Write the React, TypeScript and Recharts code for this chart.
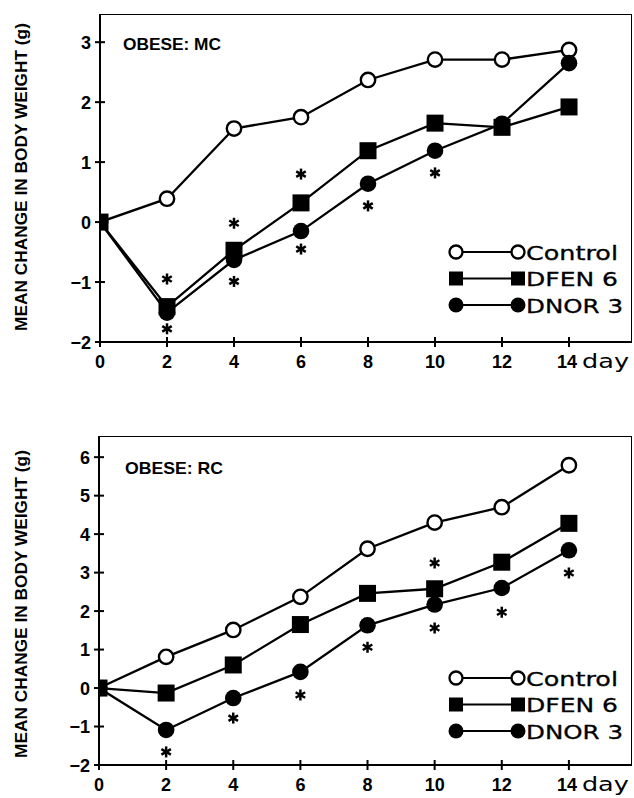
import React from 'react';
import {
  ComposedChart,
  Line,
  Scatter,
  XAxis,
  YAxis,
  Legend,
  Customized,
} from 'recharts';

// ---------- data ----------
const days = [0, 2, 4, 6, 8, 10, 12, 14];

// OBESE: MC
const mcControl = [0, 0.39, 1.56, 1.75, 2.37, 2.71, 2.71, 2.87];
const mcDfen6 = [0, -1.41, -0.47, 0.32, 1.19, 1.65, 1.58, 1.92];
const mcDnor3 = [0, -1.51, -0.63, -0.15, 0.64, 1.19, 1.64, 2.65];
const mcStarDays = [2, 2, 4, 4, 6, 6, 8, 10];
const mcStarValues = [-0.95, -1.78, -0.02, -0.99, 0.8, -0.45, 0.27, 0.82];

// OBESE: RC
const rcControl = [0, 0.81, 1.51, 2.37, 3.62, 4.3, 4.7, 5.79];
const rcDfen6 = [0, -0.13, 0.6, 1.65, 2.46, 2.58, 3.27, 4.28];
const rcDnor3 = [0, -1.09, -0.26, 0.42, 1.63, 2.17, 2.6, 3.58];
const rcStarDays = [2, 4, 6, 8, 10, 10, 12, 14];
const rcStarValues = [-1.66, -0.78, -0.18, 1.06, 3.25, 1.56, 1.97, 2.99];

const xTicks = [0, 2, 4, 6, 8, 10, 12, 14];
const mcYTicks = [-2, -1, 0, 1, 2, 3];
const rcYTicks = [-2, -1, 0, 1, 2, 3, 4, 5, 6];

const seriesNames = ['Control', 'DFEN 6', 'DNOR 3'];
const yAxisTitle = 'MEAN CHANGE IN BODY WEIGHT (g)';

// ---------- helpers ----------
const BOLD = 'Liberation Sans, Arial, Helvetica, sans-serif';
const WIDE = 'DejaVu Sans, Verdana, sans-serif';
const X_MAX = 15.88;
const Y_MIN = -2;

const buildRows = (c: number[], f: number[], n: number[]) =>
  days.map((d, i) => ({ day: d, control: c[i], dfen: f[i], dnor: n[i] }));
const buildStars = (ds: number[], vs: number[]) =>
  ds.map((d, i) => ({ day: d, v: vs[i] }));
// outline of the plot box (top and right edges), drawn through the scales
const buildFrame = (yMax: number) => [
  { day: 0, v: yMax },
  { day: X_MAX, v: yMax },
  { day: X_MAX, v: Y_MIN },
];

const fmt = (v: number) => (v < 0 ? `\u2212${-v}` : `${v}`);

const XTick = (props: any) => {
  const { x, y, payload } = props;
  const v = payload.value;
  return (
    <g>
      <line x1={x} x2={x} y1={y - 5} y2={y + 5} stroke="#000" strokeWidth={2} />
      <text
        x={v === 14 ? x - 2 : x}
        y={y + 26}
        textAnchor="middle"
        fontFamily={BOLD}
        fontWeight="bold"
        fontSize={18}
        fill="#000"
      >
        {v}
      </text>
      {v === 14 && (
        <text
          x={x + 13}
          y={y + 26}
          fontFamily={WIDE}
          fontSize={20}
          fill="#000"
          textLength={47}
          lengthAdjust="spacingAndGlyphs"
        >
          day
        </text>
      )}
    </g>
  );
};

const YTick = (props: any) => {
  const { x, y, payload } = props;
  const v = payload.value;
  return (
    <g>
      <line x1={x - 5} x2={x + 5} y1={y} y2={y} stroke="#000" strokeWidth={2} />
      <text
        x={x - 9}
        y={y + 6.5}
        textAnchor="end"
        fontFamily={BOLD}
        fontWeight="bold"
        fontSize={18}
        fill="#000"
      >
        {fmt(v)}
      </text>
    </g>
  );
};

const SquareDot = (props: any) => {
  const { cx, cy, index } = props;
  if (cx == null || cy == null) return <g key={`s${index}`} />;
  return <rect key={`s${index}`} x={cx - 8.5} y={cy - 8.5} width={17} height={17} fill="#000" />;
};

const FilledDot = (props: any) => {
  const { cx, cy, index } = props;
  if (cx == null || cy == null) return <g key={`f${index}`} />;
  return <circle key={`f${index}`} cx={cx} cy={cy} r={8.3} fill="#000" />;
};

const OpenDot = (props: any) => {
  const { cx, cy, index } = props;
  if (cx == null || cy == null) return <g key={`o${index}`} />;
  return <circle key={`o${index}`} cx={cx} cy={cy} r={7.2} fill="#fff" stroke="#000" strokeWidth={2.4} />;
};

const StarShape = (props: any) => {
  const { cx, cy } = props;
  if (cx == null || cy == null) return <g />;
  const r = 5.5;
  const a = r * Math.cos(Math.PI / 6);
  const b = r * Math.sin(Math.PI / 6);
  return (
    <g stroke="#000" strokeWidth={2.5} strokeLinecap="butt">
      <line x1={cx} y1={cy - r} x2={cx} y2={cy + r} />
      <line x1={cx - a} y1={cy - b} x2={cx + a} y2={cy + b} />
      <line x1={cx - a} y1={cy + b} x2={cx + a} y2={cy - b} />
    </g>
  );
};

const NoShape = () => <g />;

const legendLengths = [92, 92, 97];

const LegendBox = () => {
  const rows = [12, 38.5, 65];
  const m1 = 16;
  const m2 = 78;
  const marker = (kind: number, cx: number, cy: number, k: string) => {
    if (kind === 0)
      return <circle key={k} cx={cx} cy={cy} r={6.5} fill="#fff" stroke="#000" strokeWidth={2.3} />;
    if (kind === 1) return <rect key={k} x={cx - 7} y={cy - 7} width={14} height={14} fill="#000" />;
    return <circle key={k} cx={cx} cy={cy} r={7.5} fill="#000" />;
  };
  return (
    <svg width={194} height={80} style={{ display: 'block', overflow: 'visible' }}>
      {seriesNames.map((name, i) => {
        const cy = rows[i];
        return (
          <g key={name}>
            <line x1={m1 + 6} x2={m2 - 6} y1={cy} y2={cy} stroke="#000" strokeWidth={2} />
            {marker(i, m1, cy, `a${i}`)}
            {marker(i, m2, cy, `b${i}`)}
            <text
              x={m2 + 8}
              y={cy + 7.5}
              fontFamily={WIDE}
              fontSize={20}
              fill="#000"
              stroke="#000"
              strokeWidth={0.3}
              textLength={legendLengths[i]}
              lengthAdjust="spacingAndGlyphs"
            >
              {name}
            </text>
          </g>
        );
      })}
    </svg>
  );
};

type PanelProps = {
  top: number;
  height: number;
  marginTop: number;
  xAxisHeight: number;
  yAxisWidth: number;
  yMax: number;
  yTicks: number[];
  rows: any[];
  stars: any[];
  title: string;
  titleX: number;
  titleY: number;
  labelCY: number;
  legendTop: number;
};

const Panel = (p: PanelProps) => (
  <div style={{ position: 'absolute', left: 0, top: p.top, width: 634, height: p.height }}>
    <ComposedChart
      width={634}
      height={p.height}
      data={p.rows}
      margin={{ top: p.marginTop, right: 2, bottom: 0, left: 0 }}
    >
      <XAxis
        dataKey="day"
        type="number"
        domain={[0, X_MAX]}
        ticks={xTicks}
        interval={0}
        height={p.xAxisHeight}
        tickSize={0}
        tickMargin={0}
        tickLine={false}
        tick={<XTick />}
        axisLine={{ stroke: '#000', strokeWidth: 2 }}
        allowDataOverflow
      />
      <YAxis
        type="number"
        domain={[Y_MIN, p.yMax]}
        ticks={p.yTicks}
        interval={0}
        width={p.yAxisWidth}
        tickSize={0}
        tickMargin={0}
        tickLine={false}
        tick={<YTick />}
        axisLine={{ stroke: '#000', strokeWidth: 2 }}
        allowDataOverflow
      />
      <Scatter
        data={buildFrame(p.yMax)}
        dataKey="v"
        line={{ stroke: '#000', strokeWidth: 2 }}
        lineType="joint"
        shape={NoShape}
        legendType="none"
        isAnimationActive={false}
      />
      <Line
        dataKey="control"
        name="Control"
        stroke="#000"
        strokeWidth={2.3}
        dot={OpenDot}
        activeDot={false}
        isAnimationActive={false}
      />
      <Line
        dataKey="dnor"
        name="DNOR 3"
        stroke="#000"
        strokeWidth={2.3}
        dot={FilledDot}
        activeDot={false}
        isAnimationActive={false}
      />
      <Line
        dataKey="dfen"
        name="DFEN 6"
        stroke="#000"
        strokeWidth={2.3}
        dot={SquareDot}
        activeDot={false}
        isAnimationActive={false}
      />
      <Scatter
        data={p.stars}
        dataKey="v"
        shape={StarShape}
        legendType="none"
        isAnimationActive={false}
      />
      <Legend
        layout="vertical"
        align="center"
        verticalAlign="middle"
        content={() => <LegendBox />}
        wrapperStyle={{ position: 'absolute', left: 440, top: p.legendTop, width: 194, height: 80 }}
      />
      <Customized
        component={() => (
          <g>
            <text
              x={p.titleX}
              y={p.titleY}
              fontFamily={BOLD}
              fontWeight="bold"
              fontSize={17}
              fill="#000"
              textLength={98}
              lengthAdjust="spacingAndGlyphs"
            >
              {p.title}
            </text>
            <text
              transform={`translate(27, ${p.labelCY}) rotate(-90)`}
              x={0}
              y={0}
              textAnchor="middle"
              fontFamily={BOLD}
              fontWeight="bold"
              fontSize={17.3}
              fill="#000"
            >
              {yAxisTitle}
            </text>
          </g>
        )}
      />
    </ComposedChart>
  </div>
);

export default function App() {
  return (
    <div style={{ position: 'absolute', left: 0, top: 0, width: 634, height: 798, background: '#fff' }}>
      <Panel
        top={0}
        height={380}
        marginTop={14}
        xAxisHeight={38}
        yAxisWidth={100}
        yMax={3.47}
        yTicks={mcYTicks}
        rows={buildRows(mcControl, mcDfen6, mcDnor3)}
        stars={buildStars(mcStarDays, mcStarValues)}
        title="OBESE: MC"
        titleX={123}
        titleY={50}
        labelCY={177}
        legendTop={240}
      />
      <Panel
        top={400}
        height={398}
        marginTop={36}
        xAxisHeight={33}
        yAxisWidth={99}
        yMax={6.55}
        yTicks={rcYTicks}
        rows={buildRows(rcControl, rcDfen6, rcDnor3)}
        stars={buildStars(rcStarDays, rcStarValues)}
        title="OBESE: RC"
        titleX={125}
        titleY={74}
        labelCY={204}
        legendTop={266}
      />
    </div>
  );
}
